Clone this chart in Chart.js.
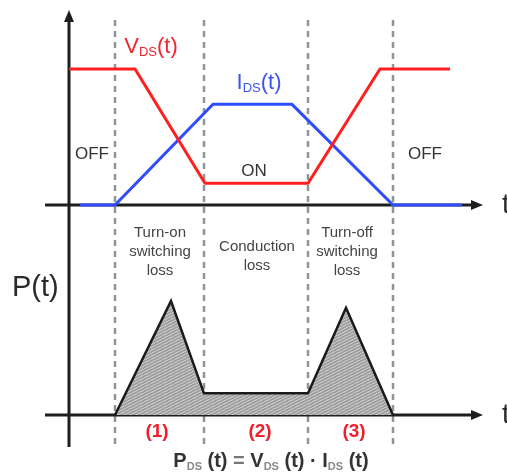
<!DOCTYPE html>
<html>
<head>
<meta charset="utf-8">
<script src="https://cdn.jsdelivr.net/npm/chart.js@4.4.1/dist/chart.umd.min.js"></script>
<style>
  body { margin: 0; background: #fff; }
  canvas { display: block; }
</style>
</head>
<body>
<canvas id="mosfet" width="507" height="474"></canvas>
<script>
// time axis in arbitrary units, switching instants (dashed lines)
var switchTimes = [4.6, 13.5, 23.9, 32.4];

// drain-source voltage (% of off-state voltage)
var vdsTime = [0, 6.6, 13.6, 23.9, 31.1, 38.1];
var vdsVals = [100, 100, 16, 16, 100, 100];

// drain current (% scale)
var idsTime = [1.1, 4.6, 14.4, 22.3, 32.4, 39.3];
var idsVals = [0, 0, 74, 74, 0, 0];

// power loss P = V * I (relative)
var pTime = [4.6, 10.2, 13.5, 23.9, 27.7, 32.4];
var pVals = [0, 100, 19, 19, 94, 0];

var regionLabels = [["Turn-on", "switching", "loss"], ["Conduction", "loss"], ["Turn-off", "switching", "loss"]];
var regionNums = ["(1)", "(2)", "(3)"];
var stateLabels = ["OFF", "ON", "OFF"];

function pts(xs, ys) {
  return xs.map(function (x, i) { return {x: x, y: ys[i]}; });
}

// hatched grey fill for the loss area
var pc = document.createElement('canvas');
pc.width = 6; pc.height = 3;
var pctx = pc.getContext('2d');
pctx.fillStyle = '#a0a0a0';
pctx.fillRect(0, 0, 6, 3);
pctx.strokeStyle = '#dadada';
pctx.lineWidth = 0.8;
pctx.beginPath();
pctx.moveTo(0, 3); pctx.lineTo(6, 0);
pctx.stroke();
var hatch = pctx.createPattern(pc, 'repeat');

var FONT = '"Liberation Sans", Arial, sans-serif';

function arrow(ctx, x, y, dir) {
  ctx.beginPath();
  if (dir == 'up') {
    ctx.moveTo(x, y); ctx.lineTo(x - 5, y + 12); ctx.lineTo(x + 5, y + 12);
  } else {
    ctx.moveTo(x, y); ctx.lineTo(x - 12, y - 5); ctx.lineTo(x - 12, y + 5);
  }
  ctx.closePath();
  ctx.fill();
}

function richText(ctx, parts, cx, y) {
  var w = 0;
  parts.forEach(function (p) { ctx.font = p[1]; w += ctx.measureText(p[0]).width; });
  var x = cx - w / 2;
  parts.forEach(function (p) {
    ctx.font = p[1];
    ctx.fillStyle = p[2];
    ctx.fillText(p[0], x, y + (p[3] || 0));
    x += ctx.measureText(p[0]).width;
  });
}

var decor = {
  id: 'decor',
  beforeDatasetsDraw: function (chart) {
    var ctx = chart.ctx, sx = chart.scales.x, sv = chart.scales.yVI, sp = chart.scales.yP;
    var x0 = sx.getPixelForValue(0);
    var top = 10, bottom = sp.getPixelForValue(-28);
    ctx.save();
    // dashed switching lines
    ctx.strokeStyle = '#8c9696';
    ctx.lineWidth = 2.5;
    ctx.setLineDash([6, 5]);
    switchTimes.forEach(function (t) {
      var x = sx.getPixelForValue(t);
      ctx.beginPath();
      ctx.moveTo(x, 20); ctx.lineTo(x, bottom);
      ctx.stroke();
    });
    ctx.setLineDash([]);
    // axes
    ctx.strokeStyle = '#1e1e1e';
    ctx.fillStyle = '#1e1e1e';
    ctx.lineWidth = 3;
    ctx.beginPath();
    ctx.moveTo(x0, top + 8); ctx.lineTo(x0, bottom);
    ctx.stroke();
    arrow(ctx, x0, top, 'up');
    var xl = sx.getPixelForValue(-2.4), xr = sx.getPixelForValue(41.4);
    [sv.getPixelForValue(0), sp.getPixelForValue(0)].forEach(function (y) {
      ctx.beginPath();
      ctx.moveTo(xl, y); ctx.lineTo(xr - 8, y);
      ctx.stroke();
      arrow(ctx, xr, y, 'right');
    });
    ctx.restore();
  },
  afterDraw: function (chart) {
    var ctx = chart.ctx, sx = chart.scales.x, sv = chart.scales.yVI, sp = chart.scales.yP;
    ctx.save();
    ctx.textBaseline = 'alphabetic';
    ctx.textAlign = 'left';
    // curve names
    richText(ctx, [['V', '22px ' + FONT, '#f02530'], ['DS', '13px ' + FONT, '#f02530', 3], ['(t)', '22px ' + FONT, '#f02530']],
      sx.getPixelForValue(8.2), sv.getPixelForValue(112));
    richText(ctx, [['I', '22px ' + FONT, '#3d55f0'], ['DS', '13px ' + FONT, '#3d55f0', 3], ['(t)', '22px ' + FONT, '#3d55f0']],
      sx.getPixelForValue(19.0), sv.getPixelForValue(85));
    // states
    ctx.textAlign = 'center';
    ctx.textBaseline = 'middle';
    ctx.fillStyle = '#333';
    ctx.font = '17px ' + FONT;
    var stateT = [2.3, 18.5, 35.6], stateV = [37, 24.5, 37];
    stateLabels.forEach(function (s, i) {
      ctx.fillText(s, sx.getPixelForValue(stateT[i]), sv.getPixelForValue(stateV[i]));
    });
    // region names
    ctx.font = '15px ' + FONT;
    ctx.fillStyle = '#444';
    var regT = [9.1, 18.8, 27.8], regTop = [159.5, 147.5, 159.5];
    regionLabels.forEach(function (lines, i) {
      lines.forEach(function (l, j) {
        ctx.fillText(l, sx.getPixelForValue(regT[i]), sp.getPixelForValue(regTop[i]) + j * 19);
      });
    });
    // region numbers
    ctx.font = 'bold 19px ' + FONT;
    ctx.fillStyle = '#f0202a';
    var numT = [8.8, 19.1, 28.5];
    regionNums.forEach(function (n, i) {
      ctx.fillText(n, sx.getPixelForValue(numT[i]), sp.getPixelForValue(-15));
    });
    // axis names
    ctx.fillStyle = '#2a2a2a';
    ctx.font = '29px ' + FONT;
    ctx.textAlign = 'left';
    ctx.fillText('P(t)', sx.getPixelForValue(-5.7), sp.getPixelForValue(111));
    ctx.font = '28px ' + FONT;
    ctx.fillText('t', sx.getPixelForValue(43.3), sv.getPixelForValue(0));
    ctx.fillText('t', sx.getPixelForValue(43.3), sp.getPixelForValue(0));
    // formula
    ctx.textBaseline = 'alphabetic';
    var b = 'bold 20px ' + FONT, s = 'bold 11px ' + FONT;
    richText(ctx, [['P', b, '#333'], ['DS', s, '#888', 3], [' (t) ', b, '#333'], ['=', b, '#777'], [' V', b, '#333'],
      ['DS', s, '#888', 3], [' (t) \u00b7 I', b, '#333'], ['DS', s, '#888', 3], [' (t)', b, '#333']],
      sx.getPixelForValue(20.2), sp.getPixelForValue(-45.5));
    ctx.restore();
  }
};

var config = {
  type: 'line',
  data: {
    datasets: [{
      label: 'VDS(t)',
      data: pts(vdsTime, vdsVals),
      yAxisID: 'yVI',
      borderColor: '#ff1f1f',
      borderWidth: 3,
      fill: false
    }, {
      label: 'IDS(t)',
      data: pts(idsTime, idsVals),
      yAxisID: 'yVI',
      borderColor: '#2f4cff',
      borderWidth: 3,
      fill: false
    }, {
      label: 'PDS(t)',
      data: pts(pTime, pVals),
      yAxisID: 'yP',
      borderColor: '#1a1a1a',
      borderWidth: 2.5,
      backgroundColor: hatch,
      fill: 'origin'
    }]
  },
  options: {
    responsive: false,
    animation: false,
    layout: {padding: 0},
    elements: {point: {radius: 0}, line: {tension: 0, borderJoinStyle: 'miter'}},
    plugins: {legend: {display: false}, tooltip: {enabled: false}},
    scales: {
      x: {type: 'linear', min: -6.9, max: 43.8, display: false},
      yVI: {type: 'linear', min: -197.8, max: 150.7, display: false},
      yP: {type: 'linear', min: -51.75, max: 364, display: false}
    }
  },
  plugins: [decor]
};

var chart = new Chart(document.getElementById('mosfet'), config);
</script>
</body>
</html>
